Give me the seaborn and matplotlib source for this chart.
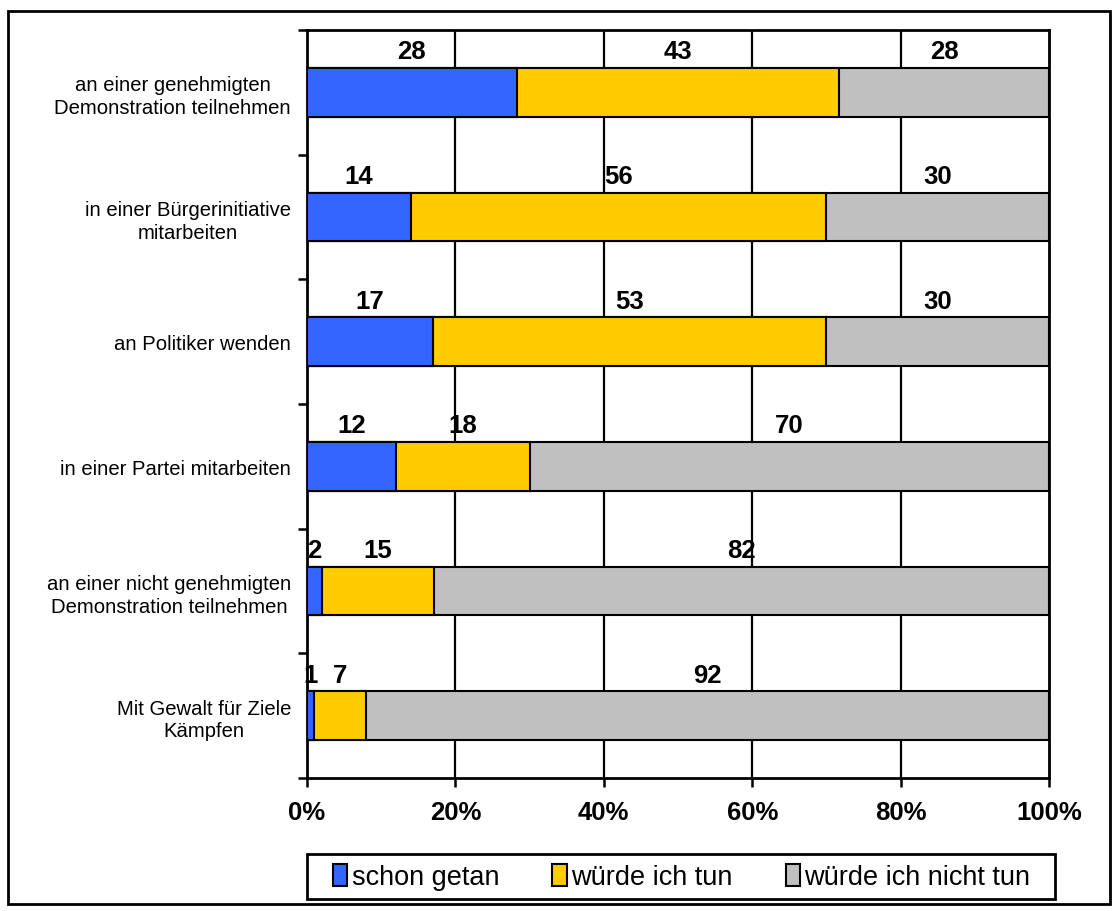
import matplotlib
matplotlib.use("Agg")
import matplotlib.pyplot as plt
import matplotlib.patches as mpatches
import numpy as np
import pandas as pd
import seaborn as sns

categories = [
    "an einer genehmigten\nDemonstration teilnehmen",
    "in einer Bürgerinitiative\nmitarbeiten",
    "an Politiker wenden",
    "in einer Partei mitarbeiten",
    "an einer nicht genehmigten\nDemonstration teilnehmen",
    "Mit Gewalt für Ziele\nKämpfen",
]
schon_getan = [28, 14, 17, 12, 2, 1]
wuerde_tun = [43, 56, 53, 18, 15, 7]
wuerde_nicht = [28, 30, 30, 70, 82, 92]
series_names = ["schon getan", "würde ich tun", "würde ich nicht tun"]
colors = ["#3366FF", "#FFCC00", "#C0C0C0"]
xtick_vals = [0, 20, 40, 60, 80, 100]
xtick_labels = ["0%", "20%", "40%", "60%", "80%", "100%"]

sns.set_theme(style="white")
plt.rcParams["font.family"] = ["Liberation Sans", "DejaVu Sans"]
plt.rcParams["text.color"] = "black"
plt.rcParams["xtick.color"] = "black"
plt.rcParams["ytick.color"] = "black"
plt.rcParams["xtick.labelcolor"] = "black"
plt.rcParams["ytick.labelcolor"] = "black"

vals = np.array([schon_getan, wuerde_tun, wuerde_nicht], dtype=float)
totals = vals.sum(axis=0)
pct = vals / totals * 100
cum = np.cumsum(pct, axis=0)

fig = plt.figure(figsize=(11.19, 9.12), dpi=100)
ax = fig.add_axes([307 / 1119, 1 - 779 / 912, (1049 - 307) / 1119, (779 - 31) / 912])

# draw cumulative layers back to front
for k in [2, 1, 0]:
    df = pd.DataFrame({"cat": categories, "val": cum[k]})
    sns.barplot(data=df, y="cat", x="val", orient="h", color=colors[k],
                width=0.39, edgecolor="black", linewidth=1.5, saturation=1,
                ax=ax, zorder=3)

# value labels above bars
for i in range(len(categories)):
    starts = np.concatenate([[0], cum[:-1, i]])
    for k in range(3):
        cx = (starts[k] + cum[k, i]) / 2
        ax.text(cx, i - 0.33, f"{int(vals[k, i])}", ha="center", va="center",
                fontsize=18.5, fontweight="bold", color="black", zorder=5)

ax.set_xlim(0, 100)
ax.set_ylim(len(categories) - 0.5, -0.5)
ax.set_xlabel("")
ax.set_ylabel("")

ax.set_xticks(xtick_vals)
ax.set_xticklabels(xtick_labels, fontsize=18.5, fontweight="bold", color="black")
ax.set_yticks(np.arange(-0.5, len(categories)), labels=[""] * (len(categories) + 1))
ax.set_yticks(np.arange(len(categories)), labels=categories, minor=True)
for lab in ax.get_yticklabels(minor=True):
    lab.set_multialignment("center")
    lab.set_linespacing(1.25)
    lab.set_color("black")
ax.tick_params(axis="y", which="minor", length=0, pad=11.5, labelsize=14.6)
ax.tick_params(axis="y", which="major", length=6.5, width=1.8, color="black", direction="out", left=True)
ax.tick_params(axis="x", which="major", length=6.5, width=1.8, color="black", direction="out", bottom=True, pad=9)

ax.grid(False)
for xv in xtick_vals[1:-1]:
    ax.axvline(xv, color="black", linewidth=1.6, zorder=1)
for sp in ax.spines.values():
    sp.set_visible(True)
    sp.set_color("black")
    sp.set_linewidth(2)

# outer frame
fig.patches.append(mpatches.Rectangle((8 / 1119, 1 - 905 / 912), (1110 - 8) / 1119, (905 - 12) / 912,
                                      transform=fig.transFigure, fill=False,
                                      edgecolor="black", linewidth=2))
# legend frame
fig.patches.append(mpatches.Rectangle((307 / 1119, 1 - 900 / 912), (1055 - 307) / 1119, (900 - 855) / 912,
                                      transform=fig.transFigure, fill=False,
                                      edgecolor="black", linewidth=2))

handles = [mpatches.Patch(facecolor=c, edgecolor="black", linewidth=1.5) for c in colors]
leg = fig.legend(handles, series_names, loc="center", bbox_to_anchor=(681.5 / 1119, 1 - 878 / 912),
                 ncol=3, frameon=False, fontsize=19.5,
                 handlelength=0.55, handleheight=0.85, handletextpad=0.15, columnspacing=1.96,
                 borderpad=0.3, borderaxespad=0)

fig.savefig("out.png", dpi=100, facecolor="white")
